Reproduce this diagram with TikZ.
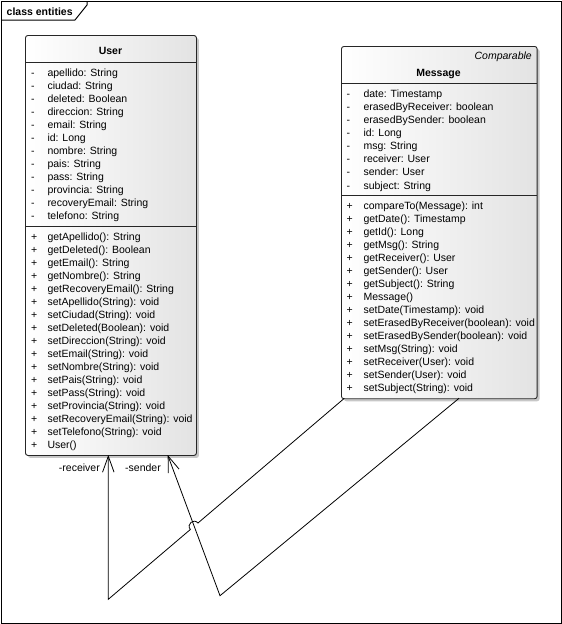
\documentclass[tikz,border=0pt]{standalone}
\usepackage{fontspec}
\setmainfont{Liberation Sans}
\usetikzlibrary{arrows.meta,calc,shadows}
\begin{document}
\begin{tikzpicture}[x=1pt,y=-1pt,
  txt/.style={font=\fontsize{10.5}{12}\selectfont, inner sep=0pt, anchor=base west},
  ttl/.style={font=\fontsize{10.5}{12}\selectfont\bfseries, inner sep=0pt, anchor=base},
  classbox/.style={draw=black!85, line width=0.9pt, rounded corners=2.5pt,
    left color=white, right color=black!11, anchor=north west, inner sep=0pt,
    drop shadow={shadow xshift=2.5pt, shadow yshift=-2.5pt, fill=black!22, opacity=1}},
  sep/.style={draw=black!85, line width=0.9pt},
  conn/.style={draw=black, line width=0.8pt},
  tip/.style={-{Straight Barb[length=16pt,width=11.5pt,line width=0.8pt]}}
]
\useasboundingbox (0,0) rectangle (562,624);
% frame
\draw[line width=1pt] (1,1) rectangle (561,623);
\draw[line width=1pt] (1,20) -- (75,20) -- (87,5) -- (87,1);
\node[txt, font=\fontsize{10.5}{12}\selectfont\bfseries] (frametitle) at (6.5,15) {class entities};

% ---- User class
\node[classbox, minimum width=171pt, minimum height=420pt] (user) at (25,35) {};
\node[ttl] (usertitle) at (110.5,54.7) {User};
\draw[sep] (25,62.3) -- (196,62.3);
\draw[sep] (25,226.7) -- (196,226.7);
\foreach \t [count=\i from 0] in {apellido: String, ciudad: String, deleted: Boolean,
  direccion: String, email: String, id: Long, nombre: String, pais: String, pass: String,
  provincia: String, recoveryEmail: String, telefono: String}{
  \node[txt] (uav\i) at (31,{76.7+13*\i}) {-};
  \node[txt] (ua\i) at (47.3,{76.7+13*\i}) {\t};
}
\foreach \t [count=\i from 0] in {getApellido(): String, getDeleted(): Boolean,
  getEmail(): String, getNombre(): String, getRecoveryEmail(): String,
  setApellido(String): void, setCiudad(String): void, setDeleted(Boolean): void,
  setDireccion(String): void, setEmail(String): void, setNombre(String): void,
  setPais(String): void, setPass(String): void, setProvincia(String): void,
  setRecoveryEmail(String): void, setTelefono(String): void, User()}{
  \node[txt] (umv\i) at (31,{240.7+12.96*\i}) {+};
  \node[txt] (um\i) at (47.3,{240.7+12.96*\i}) {\t};
}

% ---- Message class
\node[classbox, minimum width=195.7pt, minimum height=352.3pt] (message) at (341,46) {};
\node[txt, anchor=base east, font=\fontsize{10.5}{12}\selectfont\itshape] (stereo) at (532,59.7) {Comparable};
\node[ttl] (msgtitle) at (438.5,76.3) {Message};
\draw[sep] (341,83.3) -- (536.7,83.3);
\draw[sep] (341,195) -- (536.7,195);
\foreach \t [count=\i from 0] in {date: Timestamp, erasedByReceiver: boolean,
  erasedBySender: boolean, id: Long, msg: String, receiver: User, sender: User,
  subject: String}{
  \node[txt] (mav\i) at (346.5,{97.3+13.1*\i}) {-};
  \node[txt] (ma\i) at (363.3,{97.3+13.1*\i}) {\t};
}
\foreach \t [count=\i from 0] in {compareTo(Message): int, getDate(): Timestamp,
  getId(): Long, getMsg(): String, getReceiver(): User, getSender(): User,
  getSubject(): String, Message(), setDate(Timestamp): void,
  setErasedByReceiver(boolean): void, setErasedBySender(boolean): void,
  setMsg(String): void, setReceiver(User): void, setSender(User): void,
  setSubject(String): void}{
  \node[txt] (mmv\i) at (346.5,{209.7+13*\i}) {+};
  \node[txt] (mm\i) at (363.3,{209.7+13*\i}) {\t};
}

% ---- connectors
\coordinate (ru) at (108.3,455);   % receiver end on User
\coordinate (rb) at (108.3,599.3); % receiver bend
\coordinate (rm) at (344.3,398.3); % receiver start on Message
\coordinate (su) at (167.7,455);   % sender end on User
\coordinate (sb) at (220,595.7);   % sender bend
\coordinate (sm) at (459,398.3);   % sender start on Message
\coordinate (hp) at (intersection of rb--rm and su--sb);
\coordinate (ha) at ($(hp)!5pt!(rb)$);
\coordinate (hb) at ($(hp)!5pt!(rm)$);
\coordinate (hac) at ($(ha)!6.7pt!90:(hp)$);
\coordinate (hbc) at ($(hb)!6.7pt!-90:(hp)$);

\draw[conn, tip] (sm) -- (sb) -- (su);
\draw[conn, tip] (rm) -- (hb) .. controls (hbc) and (hac) .. (ha) -- (rb) -- (ru);

\node[txt, anchor=base east] (lrecv) at (100,471.7) {-receiver};
\node[txt] (lsend) at (125,471.7) {-sender};
\end{tikzpicture}
\end{document}
